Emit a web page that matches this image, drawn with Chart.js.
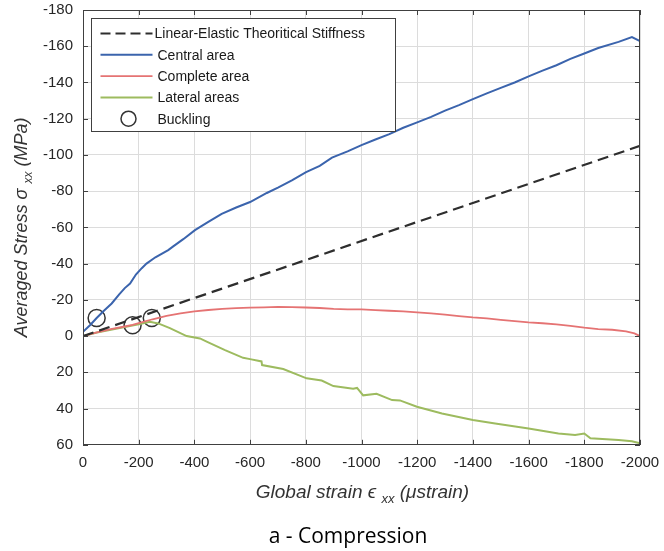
<!DOCTYPE html>
<html>
<head>
<meta charset="utf-8">
<script src="https://cdn.jsdelivr.net/npm/chart.js@4.4.1/dist/chart.umd.min.js"></script>
<style>
  html, body { margin: 0; padding: 0; background: #fff; }
  #wrap { width: 664px; height: 551px; }
</style>
</head>
<body>
<div id="wrap"><canvas id="stressChart" width="664" height="551"></canvas></div>
<script>
// values (strain in microstrain, stress in MPa)
const linearStrain = [0, -2000];
const linearStress = [0, -105];

const centralStrain = [0, -25, -49, -75, -103, -130, -150, -169, -190, -211, -228, -260, -306, -324, -360, -402, -450, -498, -550, -600, -660, -700, -750, -801, -850, -894, -950, -1000, -1050, -1100, -1150, -1200, -1250, -1300, -1350, -1400, -1450, -1500, -1550, -1600, -1650, -1700, -1750, -1800, -1850, -1923, -1971, -2000];
const centralStress = [-2.4, -6, -10, -14, -18, -23, -26.5, -29, -34, -37.5, -40, -43.5, -47.5, -49.5, -53.5, -58.5, -63, -67.5, -71, -74, -79, -82, -86, -90.5, -94, -98.5, -102, -105.4, -108.5, -111.5, -115, -118, -121, -124.5, -127.5, -130.8, -134, -137, -140, -143.4, -146.5, -149.5, -153, -156, -159, -162.4, -165, -162.8];

const completeStrain = [0, -50, -100, -150, -178, -200, -250, -300, -350, -400, -450, -500, -550, -600, -650, -700, -750, -800, -850, -900, -950, -1000, -1050, -1100, -1150, -1200, -1250, -1300, -1350, -1400, -1450, -1500, -1550, -1600, -1650, -1700, -1750, -1800, -1850, -1900, -1950, -1980, -2000];
const completeStress = [0, -2, -3.8, -5.3, -6.2, -7.2, -9.3, -11.2, -12.6, -13.6, -14.4, -15, -15.4, -15.7, -15.9, -16.1, -16, -15.8, -15.5, -15, -14.8, -14.7, -14.3, -14, -13.6, -13.1, -12.5, -11.8, -11, -10.3, -9.8, -9, -8.3, -7.6, -7.1, -6.5, -5.7, -4.7, -3.9, -3.5, -2.6, -1.5, 0];

const lateralStrain = [0, -50, -100, -150, -200, -240, -270, -312, -372, -420, -444, -510, -575, -600, -641, -643, -719, -803, -857, -899, -970, -984, -1006, -1054, -1110, -1138, -1199, -1289, -1400, -1480, -1600, -1707, -1767, -1800, -1822, -1923, -1971, -2000];
const lateralStress = [0, -2, -3.5, -5, -6.5, -7.9, -7, -4.4, 0, 1.3, 3, 7.7, 12, 12.7, 14, 16, 18.2, 23.3, 24.5, 27.6, 29, 28.6, 32.7, 31.8, 35.3, 35.5, 39, 42.7, 46.3, 48.2, 51, 53.7, 54.6, 53.8, 56.4, 57.4, 58, 59.2];

const bucklingStrain = [-49, -178, -247];
const bucklingStress = [-10, -6, -10];

const xTicks = { min: -2000, max: 0, step: 200 };
const yTicks = { min: -180, max: 60, step: 20 };

const FONT = "'Liberation Sans', Arial, sans-serif";
const AXIS_GREY = '#404040';

function toPoints(xs, ys) {
    return xs.map((x, i) => ({ x: x, y: ys[i] }));
}

function lineSet(label, xs, ys, color, width) {
    return {
        label: label,
        data: toPoints(xs, ys),
        showLine: true,
        borderColor: color,
        backgroundColor: color,
        borderWidth: width,
        pointRadius: 0,
        pointHoverRadius: 0,
        tension: 0
    };
}

const datasets = [
    Object.assign(lineSet('Linear-Elastic Theoritical Stiffness', linearStrain, linearStress, '#2e2e2e', 2.2), { borderDash: [11, 6] }),
    lineSet('Central area', centralStrain, centralStress, '#3b64ad', 2),
    lineSet('Complete area', completeStrain, completeStress, '#e57373', 1.8),
    lineSet('Lateral areas', lateralStrain, lateralStress, '#9dbb5f', 2),
    {
        label: 'Buckling',
        data: toPoints(bucklingStrain, bucklingStress),
        showLine: false,
        pointRadius: 8.5,
        pointHoverRadius: 8.5,
        pointBorderColor: '#333333',
        pointBackgroundColor: 'rgba(0,0,0,0)',
        pointBorderWidth: 1.5
    }
];

// text with a subscript, centred on 0
function drawSubText(ctx, parts, size) {
    const main = 'italic ' + size + 'px ' + FONT;
    const sub = 'italic ' + Math.round(size * 0.67) + 'px ' + FONT;
    let total = 0;
    parts.forEach(p => {
        ctx.font = p.sub ? sub : main;
        p.w = ctx.measureText(p.t).width;
        total += p.w;
    });
    let cx = -total / 2;
    parts.forEach(p => {
        ctx.font = p.sub ? sub : main;
        ctx.fillText(p.t, cx, p.sub ? 5 : 0);
        cx += p.w;
    });
}

// MATLAB-like box, inward ticks, axis titles and legend
const matlabFrame = {
    id: 'matlabFrame',
    afterDatasetsDraw(chart) {
        const { ctx, chartArea: a, scales } = chart;
        const x = scales.x, y = scales.y;
        ctx.save();

        ctx.strokeStyle = AXIS_GREY;
        ctx.lineWidth = 1;
        ctx.strokeRect(Math.round(a.left) + 0.5, Math.round(a.top) + 0.5,
            Math.round(a.width) - 1, Math.round(a.height) - 1);

        ctx.beginPath();
        x.ticks.forEach(t => {
            const px = Math.round(x.getPixelForValue(t.value)) + 0.5;
            ctx.moveTo(px, a.bottom); ctx.lineTo(px, a.bottom - 5);
            ctx.moveTo(px, a.top); ctx.lineTo(px, a.top + 5);
        });
        y.ticks.forEach(t => {
            const py = Math.round(y.getPixelForValue(t.value)) + 0.5;
            ctx.moveTo(a.left, py); ctx.lineTo(a.left + 5, py);
            ctx.moveTo(a.right, py); ctx.lineTo(a.right - 5, py);
        });
        ctx.stroke();

        // axis titles
        ctx.fillStyle = '#333333';
        ctx.textBaseline = 'alphabetic';
        ctx.textAlign = 'left';
        ctx.save();
        ctx.translate((a.left + a.right) / 2 + 1, 498);
        drawSubText(ctx, [{ t: 'Global strain \u03f5 ' }, { t: 'xx', sub: true }, { t: ' (\u03bcstrain)' }], 19);
        ctx.restore();

        ctx.save();
        ctx.translate(27, (a.top + a.bottom) / 2);
        ctx.rotate(-Math.PI / 2);
        drawSubText(ctx, [{ t: 'Averaged Stress \u03c3 ' }, { t: 'xx', sub: true }, { t: ' (MPa)' }], 18);
        ctx.restore();

        // legend box
        const bx = Math.round(a.left) + 8.5, by = Math.round(a.top) + 8.5;
        const bw = 304, bh = 113;
        ctx.fillStyle = '#ffffff';
        ctx.fillRect(bx, by, bw, bh);
        ctx.strokeStyle = AXIS_GREY;
        ctx.lineWidth = 1;
        ctx.strokeRect(bx, by, bw, bh);

        ctx.font = '14px ' + FONT;
        ctx.textBaseline = 'middle';
        chart.data.datasets.forEach((ds, i) => {
            const ry = by + 15 + i * 21.3;
            ctx.save();
            if (ds.showLine) {
                ctx.strokeStyle = ds.borderColor;
                ctx.lineWidth = ds.borderWidth;
                ctx.setLineDash(ds.borderDash ? [10, 5] : []);
                ctx.beginPath();
                ctx.moveTo(bx + 9, ry);
                ctx.lineTo(bx + 61, ry);
                ctx.stroke();
            } else {
                ctx.strokeStyle = ds.pointBorderColor;
                ctx.lineWidth = ds.pointBorderWidth;
                ctx.beginPath();
                ctx.arc(bx + 37, ry, 7.5, 0, Math.PI * 2);
                ctx.stroke();
            }
            ctx.restore();
            ctx.fillStyle = '#1a1a1a';
            ctx.fillText(ds.label, bx + (i === 0 ? 63 : 66), ry + 1);
        });

        ctx.restore();
    }
};

const ctx = document.getElementById('stressChart').getContext('2d');
const stressChart = new Chart(ctx, {
    type: 'scatter',
    data: { datasets: datasets },
    options: {
        responsive: false,
        animation: false,
        events: [],
        layout: { padding: { left: 32, right: 0, top: 10, bottom: 1 } },
        plugins: {
            legend: { display: false },
            tooltip: { enabled: false },
            title: {
                display: true,
                position: 'bottom',
                text: 'a - Compression',
                color: '#000000',
                font: { family: "'Open Sans', 'Noto Sans', sans-serif", size: 21, weight: 'normal' },
                padding: { top: 20, bottom: 0 }
            }
        },
        scales: {
            x: {
                type: 'linear',
                reverse: true,
                min: xTicks.min,
                max: xTicks.max,
                afterFit: s => { s.height = 60; s.paddingRight = 24; },
                ticks: {
                    stepSize: xTicks.step,
                    padding: 9,
                    color: '#262626',
                    font: { family: FONT, size: 15 },
                    maxRotation: 0,
                    autoSkip: false,
                    callback: v => String(v)
                },
                grid: { color: '#dcdcdc', lineWidth: 1, drawTicks: false },
                border: { display: true, color: AXIS_GREY, width: 1 }
            },
            y: {
                type: 'linear',
                reverse: true,
                min: yTicks.min,
                max: yTicks.max,
                afterFit: s => { s.width = 51; s.paddingTop = 0; s.paddingBottom = 0; },
                ticks: {
                    stepSize: yTicks.step,
                    padding: 10,
                    color: '#262626',
                    font: { family: FONT, size: 15 },
                    autoSkip: false,
                    callback: v => String(v)
                },
                grid: { color: '#dcdcdc', lineWidth: 1, drawTicks: false },
                border: { display: true, color: AXIS_GREY, width: 1 }
            }
        }
    },
    plugins: [matlabFrame]
});
</script>
</body>
</html>
